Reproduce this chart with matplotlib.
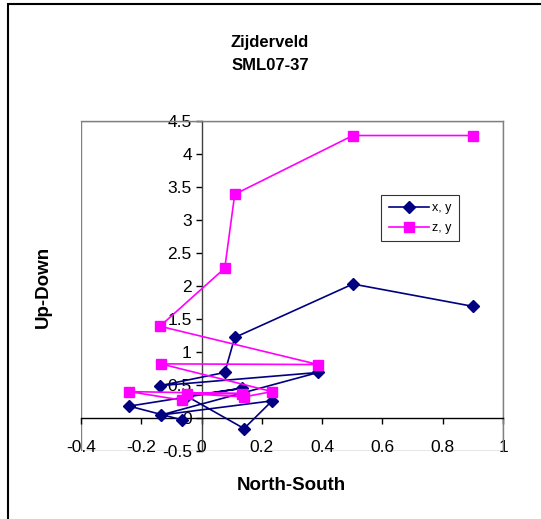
import matplotlib
matplotlib.use("Agg")
import matplotlib.pyplot as plt
from matplotlib.patches import Rectangle

plt.rcParams['font.family'] = ['Liberation Sans', 'DejaVu Sans']

# Shared North-South values
ns = [0.902, 0.502, 0.110, 0.077, -0.138, 0.387, -0.135, 0.234, 0.141, -0.049, 0.133, -0.240, -0.064]
# Up-Down values of the two projections
xy = [1.69, 2.03, 1.22, 0.69, 0.49, 0.69, 0.045, 0.26, -0.16, 0.33, 0.45, 0.18, -0.03]
zy = [4.28, 4.28, 3.39, 2.27, 1.39, 0.81, 0.82, 0.40, 0.32, 0.37, 0.37, 0.40, 0.27]

xticks = [-0.4, -0.2, 0, 0.2, 0.4, 0.6, 0.8, 1]
xticklabels = ["-0.4", "-0.2", "0", "0.2", "0.4", "0.6", "0.8", "1"]
yticks = [-0.5, 0, 0.5, 1, 1.5, 2, 2.5, 3, 3.5, 4, 4.5]
yticklabels = ["-0.5", "0", "0.5", "1", "1.5", "2", "2.5", "3", "3.5", "4", "4.5"]

W, H = 541, 519
fig = plt.figure(figsize=(W / 100, H / 100), dpi=100)

# outer chart border (right and bottom edges lie outside the picture)
fig.patches.append(Rectangle((8 / W, -0.05), 1.2, 1.05 - 4 / H, transform=fig.transFigure,
                             fill=False, edgecolor='black', linewidth=1.5))

ax = fig.add_axes([81 / W, 1 - 451 / H, 422 / W, 330 / H])
ax.set_xlim(-0.4, 1)
ax.set_ylim(-0.5, 4.5)

ax.plot(ns, xy, color='#000080', marker='D', markersize=6.5, linewidth=1.2,
        label='x, y', zorder=3)
ax.plot(ns, zy, color='#FF00FF', marker='s', markersize=6.5, linewidth=1.2,
        label='z, y', zorder=4)

# axes crossing at origin
for s in ['top', 'right']:
    ax.spines[s].set_color('#808080')
    ax.spines[s].set_linewidth(1.0)
ax.spines['left'].set_position(('data', 0))
ax.spines['bottom'].set_position(('data', 0))
ax.spines['left'].set_color('#404040')
ax.spines['bottom'].set_color('black')
ax.spines['left'].set_linewidth(1.0)
ax.spines['bottom'].set_linewidth(1.0)
ax.add_patch(Rectangle((0, 0), 1, 1, transform=ax.transAxes, fill=False,
                       edgecolor='#808080', linewidth=1.0, zorder=0.5))

ax.set_xticks(xticks)
ax.set_xticklabels(xticklabels)
ax.set_yticks(yticks)
ax.set_yticklabels(yticklabels)
ax.tick_params(axis='both', direction='out', length=4, width=1.0, labelsize=12.5)
ax.tick_params(axis='x', pad=12)
ax.tick_params(axis='y', pad=3)

leg = ax.legend(loc='upper left', bbox_to_anchor=(0.711, 0.776), borderaxespad=0,
                fontsize=9, frameon=True, fancybox=False, edgecolor='black',
                handlelength=3.2, handletextpad=0.3, borderpad=0.6, labelspacing=0.6)
leg.get_frame().set_linewidth(0.8)

fig.text(270 / W, 1 - 43 / H, 'Zijderveld', ha='center', va='center',
         fontsize=12, fontweight='bold')
fig.text(270 / W, 1 - 65 / H, 'SML07-37', ha='center', va='center',
         fontsize=12, fontweight='bold')
fig.text(291 / W, 1 - 485 / H, 'North-South', ha='center', va='center',
         fontsize=13.5, fontweight='bold')
fig.text(43 / W, 1 - 287 / H, 'Up-Down', ha='center', va='center',
         fontsize=13.5, fontweight='bold', rotation=90)

fig.savefig('out.png', dpi=100)
